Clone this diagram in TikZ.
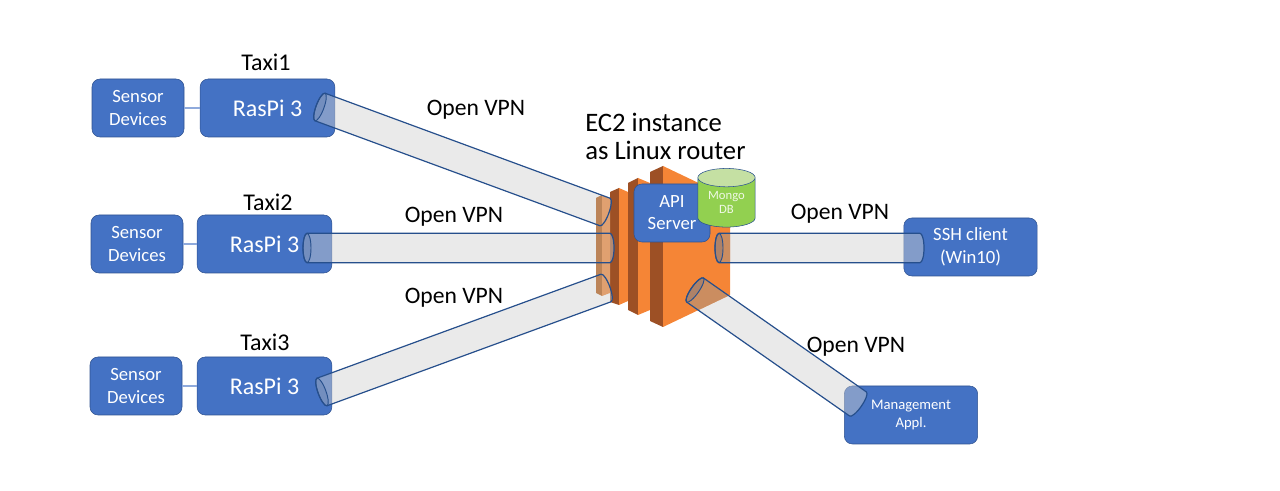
\documentclass[tikz,border=0pt]{standalone}
\usepackage{fontspec}
\setmainfont{Carlito}
\usetikzlibrary{calc,shapes.geometric}
\definecolor{boxblue}{HTML}{4472C4}
\definecolor{boxline}{HTML}{2F528F}
\definecolor{tubeline}{HTML}{264F8C}
\definecolor{slabface}{HTML}{F58536}
\definecolor{slabside}{HTML}{9D5025}
\definecolor{barface}{HTML}{E0A070}
\definecolor{barside}{HTML}{BC8458}
\definecolor{tubetint}{HTML}{CB8D60}
\definecolor{mongobody}{HTML}{92D050}
\definecolor{mongotop}{HTML}{C5E0A3}
\tikzset{
    devbox/.style={draw=boxline, fill=boxblue, rounded corners=6pt, text=white,
        align=center, inner sep=0pt, font=\fontsize{14}{17}\selectfont},
    sensorbox/.style={devbox, minimum width=69pt, minimum height=43.5pt},
    raspibox/.style={devbox, minimum width=101pt, minimum height=43.5pt,
        font=\fontsize{18}{22}\selectfont},
    clientbox/.style={devbox, minimum width=100pt, minimum height=43.5pt},
    caption/.style={text=black, font=\fontsize{17.7}{22}\selectfont, inner sep=0pt},
    taxilabel/.style={caption, font=\fontsize{18}{22}\selectfont},
    ec2label/.style={caption, anchor=west, font=\fontsize{20}{22}\selectfont},
    sensorlink/.style={draw=boxblue!60, line width=.8pt},
    tubefill/.style={fill=black!18, fill opacity=.45},
    tubetan/.style={fill=tubetint},
    tubeedge/.style={draw=tubeline, line width=.9pt},
    tubemouth/.style={fill=boxline, fill opacity=.18, draw=tubeline, line width=.7pt},
}
% one lying cylinder, from its open mouth to its rounded end
\newcommand{\tubebody}[3][]{%
    \path[#1] let \p1=($(#3)-(#2)$), \n1={atan2(\y1,\x1)}, \n2={veclen(\x1,\y1)} in
        [shift={(#2)}, rotate=\n1] (0pt,11pt) -- (\n2,11pt)
        arc[start angle=90, end angle=-90, x radius=3pt, y radius=11pt]
        -- (0pt,-11pt) arc[start angle=-90, end angle=-270, x radius=3pt, y radius=11pt] -- cycle;
}
\newcommand{\tubemouth}[2]{%
    \path[tubemouth] let \p1=($(#2)-(#1)$), \n1={atan2(\y1,\x1)} in
        [shift={(#1)}, rotate=\n1] (0pt,0pt) ellipse[x radius=3pt, y radius=11pt];
}
\newcommand{\tubelist}{tubeA/endA, tubeB/endB, tubeC/endC, tubeD/endD, tubeE/endE}
\begin{document}
\begin{tikzpicture}[x=.75pt, y=.75pt]
\useasboundingbox (0,0) rectangle (1280,491);

% the EC2 slabs
\fill[slabside] (610,299) -- (619,303) -- (619,186) -- (610,189) -- cycle;
\fill[slabface] (619,303) -- (628,299) -- (628,190) -- (619,186) -- cycle;
\fill[slabside] (628,308) -- (638,313) -- (638,176) -- (628,181) -- cycle;
\fill[slabface] (638,313) -- (650,308) -- (650,181) -- (638,176) -- cycle;
\fill[slabside] (650,319) -- (663,325) -- (663,164) -- (650,170) -- cycle;
\fill[slabface] (663,325) -- (730,293) -- (730,196) -- (663,164) -- cycle;

% devices
\node[sensorbox] (sensorA) at (138,383) {Sensor\\Devices};
\node[raspibox]  (raspiA)  at (267.5,383) {RasPi 3};
\node[sensorbox] (sensorB) at (137,247) {Sensor\\Devices};
\node[raspibox]  (raspiB)  at (264.5,247) {RasPi 3};
\node[sensorbox] (sensorC) at (136,105) {Sensor\\Devices};
\node[raspibox]  (raspiC)  at (264.5,105) {RasPi 3};
\node[clientbox] (ssh)  at (970.5,244) {SSH client\\(Win10)};
\node[clientbox, font=\fontsize{11}{13}\selectfont] (mgmt) at (911,76) {Management\\Appl.};

\draw[sensorlink] (sensorA) -- (raspiA);
\draw[sensorlink] (sensorB) -- (raspiB);
\draw[sensorlink] (sensorC) -- (raspiC);

% tube ends
\coordinate (tubeA) at (320,384);
\coordinate (endA)  at (605,279);
\coordinate (tubeB) at (307,243);
\coordinate (endB)  at (610,243);
\coordinate (tubeC) at (322,99);
\coordinate (endC)  at (606,203);
\coordinate (tubeD) at (719,243);
\coordinate (endD)  at (920,243);
\coordinate (tubeE) at (695,201);
\coordinate (endE)  at (858,87);

\foreach \from/\to in \tubelist {\tubebody[tubefill]{\from}{\to}}
\begin{scope}
    \clip (663,325) -- (730,293) -- (730,196) -- (663,164) -- cycle;
    \foreach \from/\to in \tubelist {\tubebody[tubetan]{\from}{\to}}
\end{scope}

% faded slab under the left tube ends
\fill[barside] (596,293) -- (602,296) -- (602,195) -- (596,198) -- cycle;
\fill[barface] (602,296) -- (610,293) -- (610,198) -- (602,195) -- cycle;

\foreach \from/\to in \tubelist {
    \tubebody[tubeedge]{\from}{\to}
    \tubemouth{\from}{\to}
}

% server and database
\node[devbox, minimum width=57pt, minimum height=43.5pt, font=\fontsize{14}{16.5}\selectfont]
    (api) at (672,278) {API\\Server};
\node[shape=cylinder, shape border rotate=90, aspect=.5, draw=tubeline, cylinder uses custom fill,
    cylinder body fill=mongobody, cylinder end fill=mongotop, minimum width=43pt, minimum height=44pt,
    inner sep=0pt, align=center, text=white!85!mongobody, font=\fontsize{9.5}{10.5}\selectfont]
    (mongo) at (726.5,288.5) {Mongo\\DB};

% labels
\node[taxilabel] (taxiA) at (266,429) {Taxi1};
\node[taxilabel] (taxiB) at (268,289) {Taxi2};
\node[taxilabel] (taxiC) at (265,149) {Taxi3};
\node[caption] (vpnA) at (476,381) {Open VPN};
\node[caption] (vpnB) at (454,274) {Open VPN};
\node[caption] (vpnC) at (454,193) {Open VPN};
\node[caption] (vpnD) at (840,277) {Open VPN};
\node[caption] (vpnE) at (856,144) {Open VPN};
\node[ec2label] (ec2A) at (585,369) {EC2 instance};
\node[ec2label] (ec2B) at (585,341) {as Linux router};
\end{tikzpicture}
\end{document}
